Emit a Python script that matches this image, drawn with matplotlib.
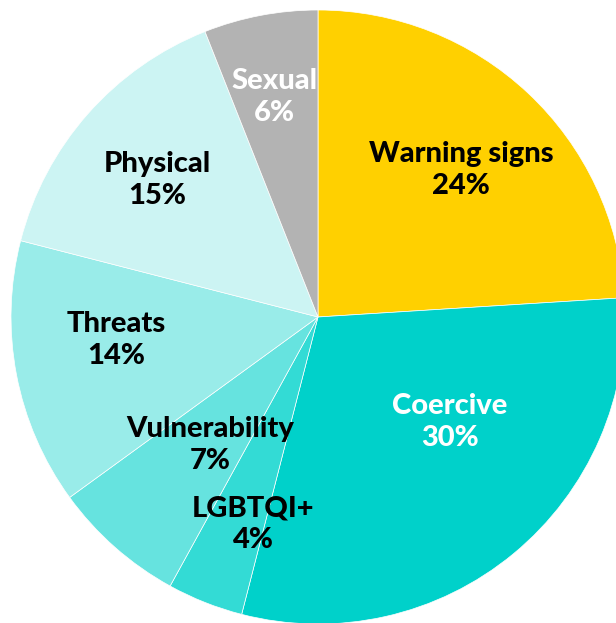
import numpy as np
import matplotlib.pyplot as plt

categories = ['Warning signs', 'Coercive', 'LGBTQI+', 'Vulnerability', 'Threats', 'Physical', 'Sexual']
shares = [24, 30, 4, 7, 14, 15, 6]
colors = ['#FFD000', '#00D1CA', '#33DBD5', '#66E3DF', '#99ECE9', '#CCF4F3', '#B3B3B3']
text_colors = ['black', 'white', 'black', 'black', 'black', 'black', 'white']

# label placement: radius and angle shift (deg) from the wedge middle
label_r = [0.668, 0.549, 0.707, 0.546, 0.662, 0.689, 0.730]
label_shift = [-1.0, 11.9, 4.2, 1.2, -4.3, 1.0, 0.3]


def make_chart():
    fig = plt.figure(figsize=(6.16, 6.23), dpi=100)
    ax = fig.add_axes([0, 0, 1, 1])
    plt.rcParams['font.family'] = ['Lato', 'DejaVu Sans']

    wedges, _ = ax.pie(shares, colors=colors, startangle=90, counterclock=False,
                       radius=1.0, wedgeprops=dict(edgecolor='white', linewidth=0.5))

    # pie centre sits at pixel (318, 317), radius 307 px
    scale = 307.0
    ax.set_xlim(-318 / scale, (616 - 318) / scale)
    ax.set_ylim(-(623 - 317) / scale, 317 / scale)
    ax.set_aspect('auto')
    ax.axis('off')

    for w, name, val, tc, r, sh in zip(wedges, categories, shares, text_colors, label_r, label_shift):
        mid = np.deg2rad((w.theta1 + w.theta2) / 2 + sh)
        x, y = r * np.cos(mid), r * np.sin(mid)
        ax.text(x, y, f'{name}\n{val}%', ha='center', va='center', color=tc,
                fontsize=21, fontweight='black', linespacing=1.25)

    fig.savefig('out.png', dpi=100, facecolor='white')


if __name__ == '__main__':
    make_chart()
